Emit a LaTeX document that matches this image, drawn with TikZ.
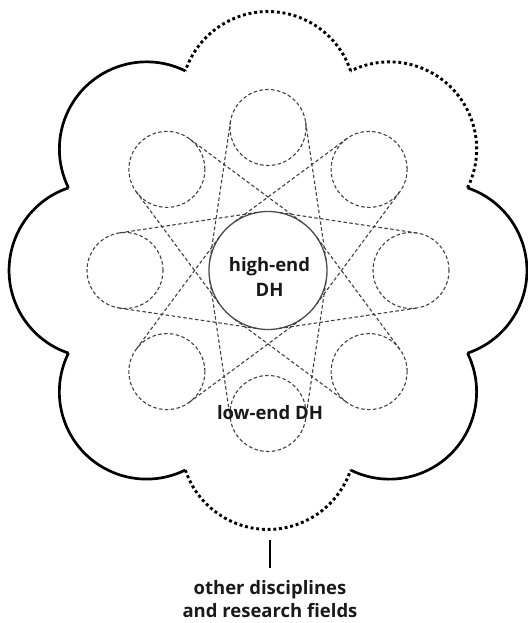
\documentclass[tikz,border=0pt]{standalone}
\usepackage{fontspec}
\setsansfont{Open Sans}
\usetikzlibrary{calc}
\begin{document}
\begin{tikzpicture}[x=1pt,y=1pt,
  lobe/.style={line width=2.7pt, draw=black},
  dotlobe/.style={line width=2.9pt, draw=black, dash pattern=on 2.9pt off 2.8pt},
  ring/.style={circle, draw=black!75, line width=1.1pt, dash pattern=on 3.5pt off 2.4pt,
    minimum size=76pt, inner sep=0pt, outer sep=0pt},
  belt/.style={draw=black!75, line width=1.1pt, dash pattern=on 3.5pt off 2.4pt},
  hub/.style={circle, draw=black!70, line width=1.3pt, minimum size=118pt,
    inner sep=0pt, outer sep=0pt},
  lbl/.style={font=\sffamily\bfseries\fontsize{18.5}{25}\selectfont, align=center,
    text=black!90, inner sep=0pt},
  bar/.style={line width=2.6pt, draw=black}
]
\useasboundingbox (0,0) rectangle (527,623);
\coordinate (O) at (268,352.5);

% outer cloud: eight circular lobes meeting at cusps on a circle of radius 216
\foreach \t/\s in {90/dotlobe, 45/dotlobe, 0/lobe, -45/lobe, -90/dotlobe, -135/lobe, 180/lobe, 135/lobe}{
  \draw[\s] ($(O)+(\t-22.5:216)$) arc[start angle=\t-71.4, end angle=\t+71.4, radius=87.2];
}

% central circle and the ring of eight small circles
\node[hub] (hub) at (O) {};
\foreach \i in {0,...,7}{
  \node[ring] (s\i) at ($(O)+(90-45*\i:143)$) {};
}

% external tangents from each small circle to the central circle
\foreach \i in {0,...,7}{
  \pgfmathsetmacro\p{mod(90-45*\i+81.55+720,360)}
  \pgfmathsetmacro\q{mod(90-45*\i-81.55+720,360)}
  \draw[belt] (s\i.\p) -- (hub.\p);
  \draw[belt] (s\i.\q) -- (hub.\q);
}

% labels
\node[lbl] (high) at (269.5,346.3) {high-end\\DH};
\node[lbl, anchor=base] (low) at (270,203) {low-end DH};
\node[lbl, font=\sffamily\bfseries\fontsize{18.5}{23}\selectfont] (other) at (270,24) {other disciplines\\and research fields};
\draw[bar] ([yshift=12pt]other.north) -- ++(0,28);
\end{tikzpicture}
\end{document}
